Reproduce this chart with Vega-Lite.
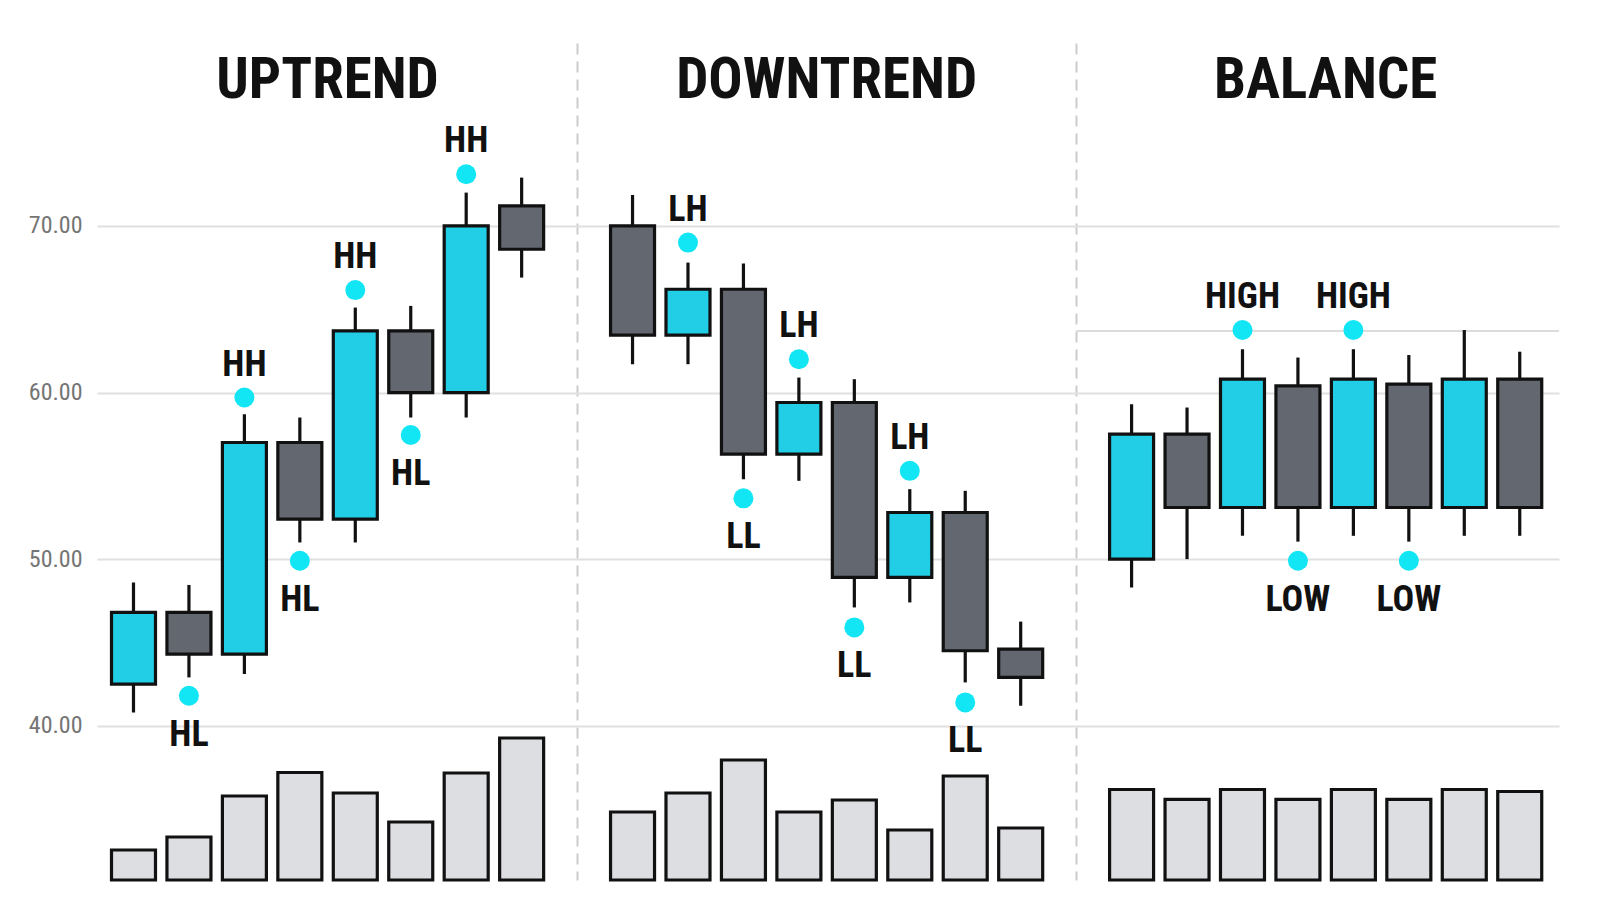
{
  "$schema": "https://vega.github.io/schema/vega-lite/v6.json",
  "width": 1462,
  "height": 837,
  "autosize": "none",
  "padding": {"left": 97, "top": 43, "right": 41, "bottom": 34},
  "background": "#ffffff",
  "config": {"view": {"stroke": null}},
  "datasets": {
    "candles": [
      {"i": 1, "section": "UPTREND", "open": 42.5, "high": 48.6, "low": 40.8, "close": 46.8, "volume": 300},
      {"i": 2, "section": "UPTREND", "open": 46.8, "high": 48.45, "low": 42.9, "close": 44.3, "volume": 430, "marker": 41.8, "label": "HL", "pos": "below"},
      {"i": 3, "section": "UPTREND", "open": 44.3, "high": 58.7, "low": 43.1, "close": 57.0, "volume": 840, "marker": 59.7, "label": "HH", "pos": "above"},
      {"i": 4, "section": "UPTREND", "open": 57.0, "high": 58.5, "low": 51.0, "close": 52.4, "volume": 1075, "marker": 49.9, "label": "HL", "pos": "below"},
      {"i": 5, "section": "UPTREND", "open": 52.4, "high": 65.1, "low": 51.0, "close": 63.7, "volume": 870, "marker": 66.15, "label": "HH", "pos": "above"},
      {"i": 6, "section": "UPTREND", "open": 63.7, "high": 65.2, "low": 58.5, "close": 60.0, "volume": 580, "marker": 57.45, "label": "HL", "pos": "below"},
      {"i": 7, "section": "UPTREND", "open": 60.0, "high": 72.0, "low": 58.5, "close": 70.0, "volume": 1070, "marker": 73.1, "label": "HH", "pos": "above"},
      {"i": 8, "section": "UPTREND", "open": 71.2, "high": 72.9, "low": 66.9, "close": 68.6, "volume": 1420},
      {"i": 10, "section": "DOWNTREND", "open": 70.0, "high": 71.85, "low": 61.7, "close": 63.45, "volume": 680},
      {"i": 11, "section": "DOWNTREND", "open": 63.45, "high": 67.8, "low": 61.7, "close": 66.2, "volume": 870, "marker": 69.0, "label": "LH", "pos": "above"},
      {"i": 12, "section": "DOWNTREND", "open": 66.2, "high": 67.75, "low": 54.8, "close": 56.3, "volume": 1200, "marker": 53.65, "label": "LL", "pos": "below"},
      {"i": 13, "section": "DOWNTREND", "open": 56.3, "high": 60.9, "low": 54.7, "close": 59.4, "volume": 680, "marker": 62.0, "label": "LH", "pos": "above"},
      {"i": 14, "section": "DOWNTREND", "open": 59.4, "high": 60.8, "low": 47.1, "close": 48.9, "volume": 800, "marker": 45.9, "label": "LL", "pos": "below"},
      {"i": 15, "section": "DOWNTREND", "open": 48.9, "high": 54.2, "low": 47.4, "close": 52.8, "volume": 500, "marker": 55.3, "label": "LH", "pos": "above"},
      {"i": 16, "section": "DOWNTREND", "open": 52.8, "high": 54.1, "low": 42.6, "close": 44.5, "volume": 1040, "marker": 41.4, "label": "LL", "pos": "below"},
      {"i": 17, "section": "DOWNTREND", "open": 44.6, "high": 46.25, "low": 41.2, "close": 42.9, "volume": 520},
      {"i": 19, "section": "BALANCE", "open": 50.0, "high": 59.3, "low": 48.3, "close": 57.5, "volume": 905},
      {"i": 20, "section": "BALANCE", "open": 57.5, "high": 59.1, "low": 50.0, "close": 53.1, "volume": 807},
      {"i": 21, "section": "BALANCE", "open": 53.1, "high": 62.6, "low": 51.4, "close": 60.8, "volume": 905, "marker": 63.75, "label": "HIGH", "pos": "above"},
      {"i": 22, "section": "BALANCE", "open": 60.4, "high": 62.1, "low": 51.05, "close": 53.1, "volume": 807, "marker": 49.9, "label": "LOW", "pos": "below"},
      {"i": 23, "section": "BALANCE", "open": 53.1, "high": 62.6, "low": 51.4, "close": 60.8, "volume": 905, "marker": 63.75, "label": "HIGH", "pos": "above"},
      {"i": 24, "section": "BALANCE", "open": 60.5, "high": 62.25, "low": 51.05, "close": 53.1, "volume": 807, "marker": 49.9, "label": "LOW", "pos": "below"},
      {"i": 25, "section": "BALANCE", "open": 53.1, "high": 63.75, "low": 51.4, "close": 60.8, "volume": 905},
      {"i": 26, "section": "BALANCE", "open": 60.8, "high": 62.45, "low": 51.4, "close": 53.1, "volume": 885}
    ],
    "levels": [
      {"name": "range high", "level": 63.7, "from": 18}
    ]
  },
  "layer": [
    {
      "layer": [
        {
          "data": {"name": "levels"},
          "mark": {"type": "rule", "color": "#dcdcdc", "strokeWidth": 2},
          "encoding": {
            "x": {"field": "from", "type": "quantitative"},
            "x2": {"value": "width"},
            "y": {"field": "level", "type": "quantitative"}
          }
        },
        {
          "data": {"name": "candles"},
          "mark": {"type": "rule", "color": "#111111", "strokeWidth": 3.2},
          "encoding": {
            "x": {
              "field": "i",
              "type": "quantitative",
              "scale": {"domain": [0.432, 26.618], "nice": false, "zero": false},
              "axis": {
                "values": [9, 18],
                "grid": true,
                "gridDash": [11, 7],
                "gridColor": "#cccccc",
                "gridWidth": 2,
                "labels": false,
                "ticks": false,
                "domain": false,
                "title": null
              }
            },
            "y": {
              "field": "low",
              "type": "quantitative",
              "scale": {"domain": [30.74, 80.98], "nice": false, "zero": false},
              "axis": {
                "values": [40, 50, 60, 70],
                "format": ".2f",
                "grid": true,
                "gridColor": "#e0e0e0",
                "gridWidth": 2,
                "domain": false,
                "ticks": false,
                "labelFont": "Roboto Condensed, Roboto",
                "labelFontSize": 24,
                "labelColor": "#757575",
                "labelPadding": 15,
                "title": null
              }
            },
            "y2": {"field": "high"}
          }
        },
        {
          "data": {"name": "candles"},
          "mark": {"type": "bar", "size": 44, "stroke": "#111111", "strokeWidth": 3.2},
          "encoding": {
            "x": {"field": "i", "type": "quantitative"},
            "y": {"field": "open", "type": "quantitative"},
            "y2": {"field": "close"},
            "fill": {
              "condition": {"test": "datum.close > datum.open", "value": "#22cee6"},
              "value": "#626770"
            }
          }
        },
        {
          "data": {"name": "candles"},
          "transform": [{"filter": "isValid(datum.marker)"}],
          "mark": {"type": "circle", "size": 400, "color": "#12e6f4", "opacity": 1},
          "encoding": {
            "x": {"field": "i", "type": "quantitative"},
            "y": {"field": "marker", "type": "quantitative"}
          }
        },
        {
          "data": {"name": "candles"},
          "transform": [{"filter": "datum.pos == 'above'"}],
          "mark": {"type": "text", "font": "Roboto Condensed, Roboto", "fontWeight": "bold", "fontSize": 36, "color": "#111111", "baseline": "alphabetic", "align": "center", "dy": -22},
          "encoding": {
            "x": {"field": "i", "type": "quantitative"},
            "y": {"field": "marker", "type": "quantitative"},
            "text": {"field": "label"}
          }
        },
        {
          "data": {"name": "candles"},
          "transform": [{"filter": "datum.pos == 'below'"}],
          "mark": {"type": "text", "font": "Roboto Condensed, Roboto", "fontWeight": "bold", "fontSize": 36, "color": "#111111", "baseline": "alphabetic", "align": "center", "dy": 50},
          "encoding": {
            "x": {"field": "i", "type": "quantitative"},
            "y": {"field": "marker", "type": "quantitative"},
            "text": {"field": "label"}
          }
        },
        {
          "data": {"name": "candles"},
          "mark": {"type": "text", "font": "Roboto Condensed, Roboto", "fontWeight": "bold", "fontSize": 57, "color": "#111111", "baseline": "alphabetic", "align": "center"},
          "encoding": {
            "x": {"aggregate": "mean", "field": "i", "type": "quantitative"},
            "y": {"datum": 77.66},
            "text": {"field": "section", "type": "nominal"}
          }
        }
      ]
    },
    {
      "data": {"name": "candles"},
      "mark": {"type": "bar", "size": 44, "fill": "#dcdee2", "stroke": "#111111", "strokeWidth": 3.2},
      "encoding": {
        "x": {"field": "i", "type": "quantitative"},
        "y": {
          "field": "volume",
          "type": "quantitative",
          "scale": {"domain": [0, 8370], "nice": false},
          "axis": null
        }
      }
    }
  ],
  "resolve": {"scale": {"y": "independent"}}
}
